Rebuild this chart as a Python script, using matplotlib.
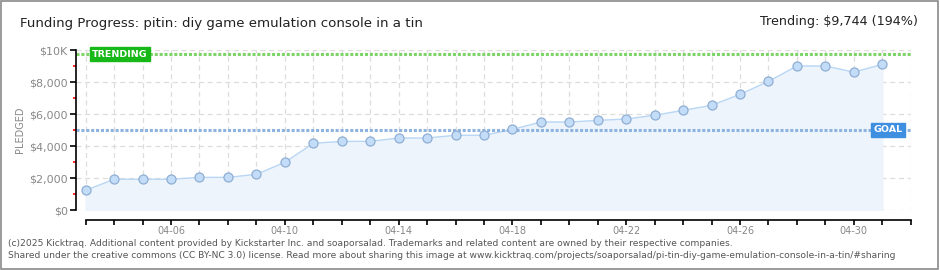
import matplotlib
matplotlib.use("Agg")
import matplotlib.pyplot as plt
from matplotlib.patches import Rectangle

# daily pledged totals, 04-03 .. 05-01
days = ['04-03', '04-04', '04-05', '04-06', '04-07', '04-08', '04-09', '04-10',
        '04-11', '04-12', '04-13', '04-14', '04-15', '04-16', '04-17', '04-18',
        '04-19', '04-20', '04-21', '04-22', '04-23', '04-24', '04-25', '04-26',
        '04-27', '04-28', '04-29', '04-30', '05-01']
pledged = [1230, 1920, 1920, 1920, 2040, 2040, 2230, 2980,
           4170, 4290, 4290, 4500, 4500, 4670, 4670, 5040,
           5500, 5500, 5600, 5690, 5920, 6230, 6540, 7230,
           8040, 9000, 9000, 8620, 9100]
axis_days = days + ['05-02']
goal = 5000
trending = 9744
y_ticks = [0, 2000, 4000, 6000, 8000, 10000]
y_labels = ['$0', '$2,000', '$4,000', '$6,000', '$8,000', '$10K']

title = 'Funding Progress: pitin: diy game emulation console in a tin'
trend_text = 'Trending: $9,744 (194%)'
footer1 = ('(c)2025 Kicktraq. Additional content provided by Kickstarter Inc. and soaporsalad. '
           'Trademarks and related content are owned by their respective companies.')
footer2 = ('Shared under the creative commons (CC BY-NC 3.0) license. Read more about sharing this image at '
           'www.kicktraq.com/projects/soaporsalad/pi-tin-diy-game-emulation-console-in-a-tin/#sharing')

fig = plt.figure(figsize=(9.4, 2.7), dpi=100)
fig.patches.append(Rectangle((0.001, 0.002), 0.997, 0.995, transform=fig.transFigure,
                             fill=False, edgecolor='#8a8a8a', linewidth=1.2))

ax = fig.add_axes([76 / 940, 60 / 270, (910.7 - 76) / 940, 160 / 270])
x = list(range(len(pledged)))
n = len(axis_days) - 1

ax.set_xlim(-0.34, n)
ax.set_ylim(0, 10000)

# grid
for i in range(n + 1):
    ax.axvline(i, color='#dddddd', linestyle=(0, (4, 3)), linewidth=0.9, zorder=0)
for v in y_ticks:
    ax.axhline(v, color='#dddddd', linestyle=(0, (4, 3)), linewidth=0.9, zorder=0)

ax.fill_between(x, pledged, 0, color='#edf4fc', zorder=1)
ax.plot(x, pledged, color='#b9d7f5', linewidth=1, zorder=2)
ax.plot(x, pledged, 'o', markersize=6.5, markerfacecolor='#c3ddf8',
        markeredgecolor='#8faed3', markeredgewidth=0.9, zorder=3)

ax.axhline(trending, color='#7ed36a', linestyle=(0, (1, 0.6)), linewidth=2.2, zorder=2)
ax.axhline(goal, color='#8db3e0', linestyle=(0, (1, 0.6)), linewidth=2.2, zorder=2)

ax.text(1.2, trending, 'TRENDING', color='white', fontsize=6.8, fontweight='bold',
        ha='center', va='center', zorder=5,
        bbox=dict(boxstyle='square,pad=0.25', facecolor='#18b818', edgecolor='#18b818'))
ax.text(28.2, goal, 'GOAL', color='white', fontsize=6.8, fontweight='bold',
        ha='center', va='center', zorder=5,
        bbox=dict(boxstyle='square,pad=0.25', facecolor='#3f8fe0', edgecolor='#3f8fe0'))

# spines
for s in ['top', 'right']:
    ax.spines[s].set_visible(False)
ax.spines['left'].set_color('black')
ax.spines['left'].set_linewidth(1.2)
ax.spines['bottom'].set_position(('outward', 7.5))
ax.spines['bottom'].set_bounds(0, n)
ax.spines['bottom'].set_linewidth(1.2)

ax.set_yticks(y_ticks)
ax.set_yticklabels(y_labels)
ax.set_yticks([1000, 3000, 5000, 7000, 9000], minor=True)
ax.tick_params(axis='y', which='major', direction='out', length=4, width=1.2,
               labelsize=8, labelcolor='#888888', pad=2)
ax.tick_params(axis='y', which='minor', direction='out', length=2.5, width=1.2, color='red')

ax.set_xticks(range(n + 1))
ax.set_xticklabels([d if (i - 3) % 4 == 0 and i < n else '' for i, d in enumerate(axis_days)])
ax.tick_params(axis='x', direction='out', length=3.6, width=1.2, labelsize=7,
               labelcolor='#888888', pad=0.5)

ax.set_ylabel('PLEDGED', fontsize=7, color='#888888', labelpad=3)

fig.text(20 / 940, 1 - 24 / 270, title, fontsize=9.6, color='#222222', va='center', ha='left')
fig.text(918 / 940, 1 - 22 / 270, trend_text, fontsize=9.2, color='#222222', va='center', ha='right')
fig.text(8 / 940, 1 - 243 / 270, footer1, fontsize=6.6, color='#555555', va='center', ha='left')
fig.text(8 / 940, 1 - 256 / 270, footer2, fontsize=6.6, color='#555555', va='center', ha='left')

fig.savefig('out.png', dpi=100)
